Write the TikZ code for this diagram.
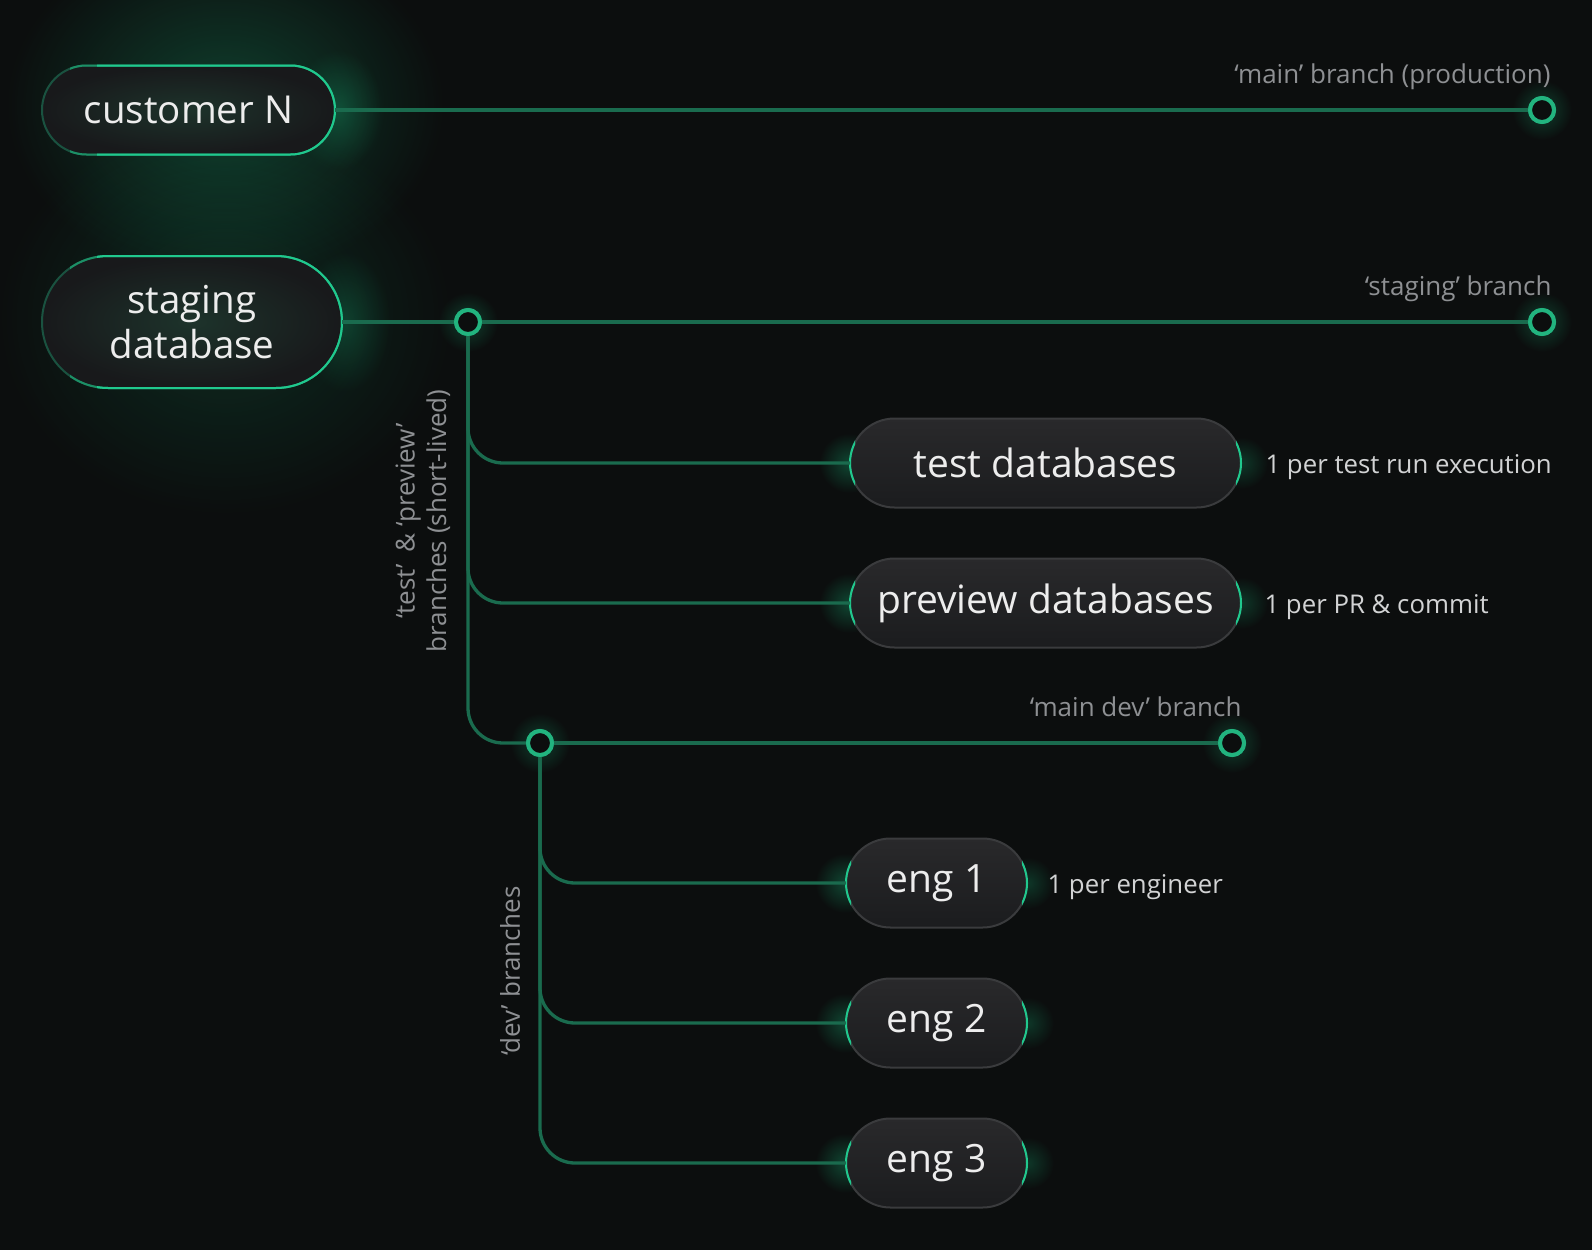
\documentclass[tikz,border=0pt]{standalone}
\usepackage{fontspec}
\setmainfont{Open Sans}
\usetikzlibrary{calc,fadings}

\definecolor{bg}{HTML}{0C0E0E}
\definecolor{wire}{HTML}{1A6B4E}
\definecolor{ring}{HTML}{22B47F}
\definecolor{neon}{HTML}{20C98E}
\definecolor{midneon}{HTML}{1C8F66}
\definecolor{dimneon}{HTML}{1A5240}
\definecolor{pillgrey}{HTML}{3A3B3D}
\definecolor{pilltop}{HTML}{29292B}
\definecolor{pillbot}{HTML}{1B1C1E}
\definecolor{rootin}{HTML}{1D332B}
\definecolor{rootout}{HTML}{18191B}
\definecolor{labeltext}{HTML}{EDEDED}
\definecolor{notetext}{HTML}{D2D3D4}
\definecolor{branchtext}{HTML}{8E9093}
\definecolor{glowgreen}{HTML}{16B277}

\tikzfading[name=softglow, inner color=transparent!0, outer color=transparent!100]

\tikzset{
  wire/.style={draw=wire, line width=3.3pt},
  hub/.style={circle, draw=ring, line width=4pt, fill=bg, minimum size=24pt,
    inner sep=0pt, outer sep=0pt},
  rootpill/.style={rectangle, draw=dimneon, line width=2pt, outer sep=0pt, inner sep=0pt,
    inner color=rootin, outer color=rootout, text=labeltext, align=center,
    font=\fontsize{38.5}{46}\selectfont},
  pill/.style={rectangle, rounded corners=44.5pt, draw=pillgrey, line width=2pt,
    outer sep=0pt, inner sep=0pt, minimum height=89pt,
    top color=pilltop, bottom color=pillbot, text=labeltext,
    font=\fontsize{39}{46}\selectfont},
  note/.style={anchor=base west, text=notetext, font=\fontsize{25.8}{31}\selectfont},
  branchnote/.style={text=branchtext, font=\fontsize{26}{31.5}\selectfont},
  glow/.style={fill=glowgreen, path fading=softglow, fill opacity=#1},
  glow/.default=0.3
}

% green tips on both ends of a grey pill
\newcommand\pilltips[1]{%
  \begin{scope}
    \clip ($(#1.west)+(-3,-26)$) rectangle ($(#1.west)+(5,26)$);
    \draw[neon, line width=2pt, rounded corners=44.5pt] (#1.north west) rectangle (#1.south east);
  \end{scope}
  \begin{scope}
    \clip ($(#1.east)+(3,-26)$) rectangle ($(#1.east)+(-5,26)$);
    \draw[neon, line width=2pt, rounded corners=44.5pt] (#1.north west) rectangle (#1.south east);
  \end{scope}}

% bright rim over the right-hand part of a root pill
\newcommand\rootrim[2]{%
  \begin{scope}
    \clip ($(#1.north west)+(28,-6)$) rectangle ($(#1.south east)+(6,6)$);
    \draw[midneon, line width=2pt, rounded corners=#2] (#1.north west) rectangle (#1.south east);
  \end{scope}
  \begin{scope}
    \clip ($(#1.north west)+(55,-6)$) rectangle ($(#1.south east)+(6,6)$);
    \draw[neon, line width=2pt, rounded corners=#2] (#1.north west) rectangle (#1.south east);
  \end{scope}}

\begin{document}
\begin{tikzpicture}[x=1pt, y=-1pt]
  \fill[bg] (0,0) rectangle (1592,1250);
  \useasboundingbox (0,0) rectangle (1592,1250);

  % soft halos
  \fill[glow=0.30] (225,105) ellipse [x radius=220, y radius=175];
  \fill[glow=0.18] (225,318) ellipse [x radius=230, y radius=200];
  \fill[glow=0.30] (338,110) ellipse [x radius=45, y radius=60];
  \fill[glow=0.25] (345,322) ellipse [x radius=45, y radius=70];
  \foreach \p in {(1542,110),(468,322),(1542,322),(540,743),(1232,743)}
    \fill[glow=0.30] \p circle [radius=30];
  \foreach \p in {(849,463),(849,603),(845,883),(845,1023),(845,1163)}
    \fill[glow=0.35] \p circle [radius=30];
  \foreach \p in {(1242,463),(1242,603),(1028,883),(1028,1023),(1028,1163)}
    \fill[glow=0.25] \p circle [radius=26];

  % pills
  \node[rootpill, rounded corners=44.5pt, minimum width=293pt, minimum height=89pt]
    (cust) at (188.5,110) {customer N};
  \node[rootpill, rounded corners=66pt, minimum width=300pt, minimum height=132pt]
    (stage) at (192,322) {staging\\[-1pt]database};
  \node[pill, minimum width=391pt] (test) at (1045.5,463) {test databases};
  \node[pill, minimum width=391pt] (prev) at (1045.5,603) {preview databases};
  \node[pill, minimum width=181pt] (eng1) at (936.5,883) {eng 1};
  \node[pill, minimum width=181pt] (eng2) at (936.5,1023) {eng 2};
  \node[pill, minimum width=181pt] (eng3) at (936.5,1163) {eng 3};

  \rootrim{cust}{44.5pt}
  \rootrim{stage}{66pt}
  \foreach \n in {test,prev,eng1,eng2,eng3} {\pilltips{\n}}

  % branch points and branch ends
  \node[hub] (prodEnd) at (1542,110) {};
  \node[hub] (stageHub) at (468,322) {};
  \node[hub] (stageEnd) at (1542,322) {};
  \node[hub] (devHub) at (540,743) {};
  \node[hub] (devEnd) at (1232,743) {};

  % connectors
  \draw[wire] (cust.east) -- (prodEnd.west);
  \draw[wire] (stage.east) -- (stageHub.west);
  \draw[wire] (stageHub.east) -- (stageEnd.west);
  \draw[wire, rounded corners=35pt] (stageHub.south) |- (test.west);
  \draw[wire, rounded corners=35pt] (stageHub.south) |- (prev.west);
  \draw[wire, rounded corners=35pt] (stageHub.south) |- (devHub.west);
  \draw[wire] (devHub.east) -- (devEnd.west);
  \draw[wire, rounded corners=35pt] (devHub.south) |- (eng1.west);
  \draw[wire, rounded corners=35pt] (devHub.south) |- (eng2.west);
  \draw[wire, rounded corners=35pt] (devHub.south) |- (eng3.west);

  % hub rings drawn again over the wire ends
  \foreach \p in {(1542,110),(468,322),(1542,322),(540,743),(1232,743)}
    \draw[ring, line width=4pt, fill=bg] \p circle [radius=12];

  % branch names
  \node[branchnote, anchor=base east] (prodLbl) at (1554,83) {‘main’ branch (production)};
  \node[branchnote, anchor=base east] (stageLbl) at (1555,295) {‘staging’ branch};
  \node[branchnote, anchor=base east] (devLbl) at (1245,716) {‘main dev’ branch};
  \node[branchnote, rotate=90, align=center] (shortLbl) at (423,521)
    {‘test’\hspace{5pt} \& ‘preview’\\branches (short-lived)};
  \node[branchnote, rotate=90] (devBrLbl) at (510,971) {‘dev’ branches};

  % per-pill notes
  \node[note] (testNote) at (1262,473) {1 per test run execution};
  \node[note] (prevNote) at (1261,613) {1 per PR \& commit};
  \node[note] (engNote) at (1044,893) {1 per engineer};
\end{tikzpicture}
\end{document}
